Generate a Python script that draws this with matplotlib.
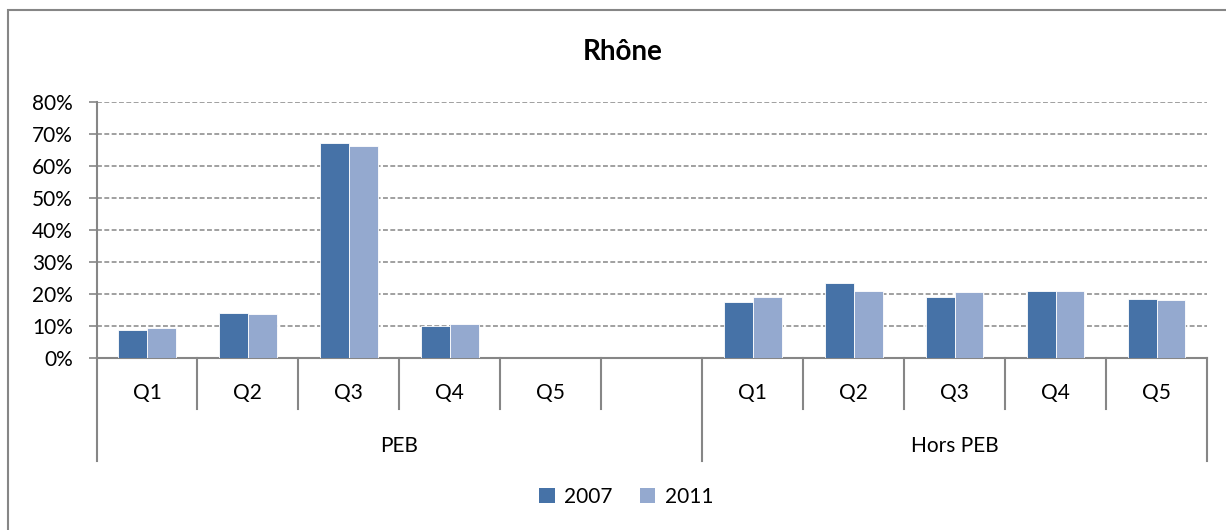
import numpy as np
import matplotlib
matplotlib.use("Agg")
import matplotlib.pyplot as plt
from matplotlib.patches import Patch, Rectangle
from matplotlib.ticker import PercentFormatter
import matplotlib.transforms as mtransforms

plt.rcParams['font.family'] = ['Lato', 'DejaVu Sans']

title = "Rhône"
series_names = ["2007", "2011"]
slot_labels = ["Q1", "Q2", "Q3", "Q4", "Q5", "", "Q1", "Q2", "Q3", "Q4", "Q5"]
group_names = ["PEB", "Hors PEB"]
group_spans = [(0, 6), (6, 11)]          # slot ranges covered by each group
values_2007 = [8.8, 14.0, 67.3, 10.0, np.nan, np.nan, 17.5, 23.4, 19.0, 21.0, 18.5]
values_2011 = [9.3, 13.9, 66.4, 10.6, np.nan, np.nan, 19.0, 20.8, 20.7, 20.8, 18.0]
y_ticks = [0, 10, 20, 30, 40, 50, 60, 70, 80]

colors = ["#4672A7", "#94A9CF"]
axis_grey = "#868686"
fs = 15

W, H = 1226, 530
fig = plt.figure(figsize=(W / 100, H / 100), dpi=100)

# outer chart frame
fig.patches.append(Rectangle((8 / W, -0.2), 1.2, 1.2 - 10 / H,
                             transform=fig.transFigure, fill=False,
                             edgecolor=axis_grey, linewidth=1.5))

left, right, top, bottom = 96.5, 1207, 102, 358
ax = fig.add_axes([left / W, 1 - bottom / H, (right - left) / W, (bottom - top) / H])

n = len(slot_labels)
x = np.arange(n)
bw = 1 / 3.5
ax.bar(x - bw / 2, values_2007, width=bw, color=colors[0], edgecolor="white", linewidth=0.6, zorder=3)
ax.bar(x + bw / 2, values_2011, width=bw, color=colors[1], edgecolor="white", linewidth=0.6, zorder=3)

ax.set_xlim(-0.5, n - 0.5)
ax.set_ylim(0, 80)
ax.set_yticks(y_ticks)
ax.yaxis.set_major_formatter(PercentFormatter(decimals=0))
ax.tick_params(axis="y", length=6, width=1.2, color=axis_grey, pad=11, labelsize=fs)
ax.set_xticks([])

for s in ["top", "right"]:
    ax.spines[s].set_visible(False)
ax.spines["left"].set_color(axis_grey)
ax.spines["left"].set_linewidth(1.5)
ax.spines["bottom"].set_color(axis_grey)
ax.spines["bottom"].set_linewidth(1.5)

for t in y_ticks[1:]:
    ax.axhline(t, color=axis_grey, linewidth=1.1, linestyle=(0, (3.2, 1.6)), zorder=1)

# multi-level category axis
trans = mtransforms.blended_transform_factory(ax.transData, ax.transAxes)
short_y = (bottom - 409) / (bottom - top)
long_y = (bottom - 461) / (bottom - top)
q_y = (bottom - 393) / (bottom - top)
g_y = (bottom - 446) / (bottom - top)

group_edges = set()
for a, b in group_spans:
    group_edges.add(a)
    group_edges.add(b)
for k in range(n + 1):
    yb = long_y if k in group_edges else short_y
    ax.plot([k - 0.5, k - 0.5], [0, yb], transform=trans, color=axis_grey,
            linewidth=1.5, clip_on=False, zorder=2)

for i, lab in enumerate(slot_labels):
    ax.text(i, q_y, lab, transform=trans, ha="center", va="center", fontsize=fs)
for name, (a, b) in zip(group_names, group_spans):
    ax.text((a + b - 1) / 2, g_y, name, transform=trans, ha="center", va="center", fontsize=fs)

fig.text(623 / W, 1 - 52 / H, title, ha="center", va="center", fontsize=20, fontweight="bold")

handles = [Patch(facecolor=c, edgecolor="none") for c in colors]
fig.legend(handles, series_names, loc="center", bbox_to_anchor=(626 / W, 1 - 497 / H),
           ncol=2, frameon=False, fontsize=fs, handlelength=0.75, handleheight=0.75,
           handletextpad=0.45, columnspacing=1.3)

fig.savefig("out.png", dpi=100)
